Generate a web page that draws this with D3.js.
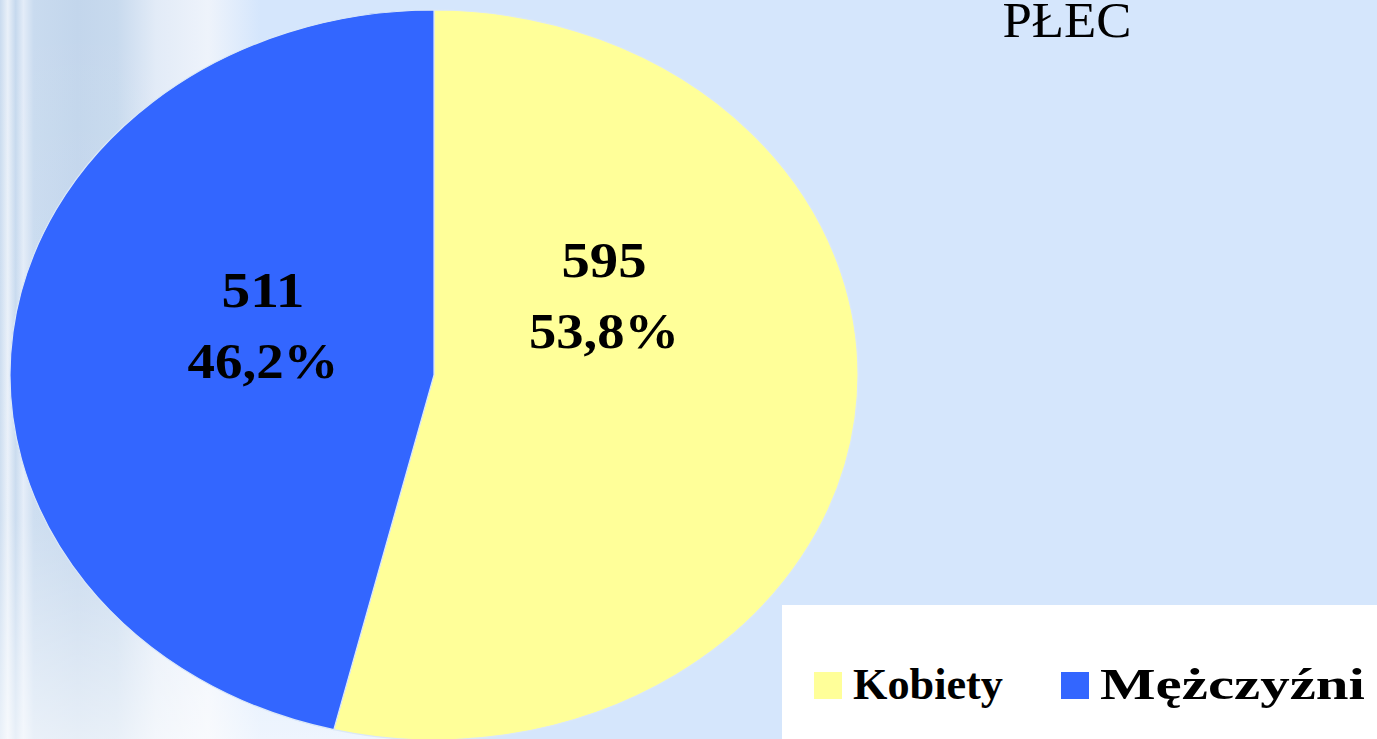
<!DOCTYPE html>
<html>
<head>
<meta charset="utf-8">
<script src="https://cdn.jsdelivr.net/npm/d3@7"></script>
<style>
  html, body { margin: 0; padding: 0; background: #d5e6fc; }
  svg { display: block; }
</style>
</head>
<body>
<svg id="chart" width="1377" height="739"></svg>
<script>
const categories = ["Kobiety", "Mężczyźni"];
const counts = [595, 511];
const percentLabels = ["53,8%", "46,2%"];
const colors = ["#ffff99", "#3366ff"];
const title = "PŁEC";

const W = 1377, H = 739;
const svg = d3.select("#chart");

// background
const defs = svg.append("defs");
const g1 = defs.append("linearGradient").attr("id", "bgcols").attr("x1", 0).attr("x2", 1).attr("y1", 0).attr("y2", 0);
[[0, "#c9dbef"], [0.03, "#e9f0f9"], [0.06, "#c6d9ee"], [0.09, "#e3ecf8"], [0.13, "#c9dbef"], [0.3, "#c3d6ec"], [0.45, "#c8daee"], [0.6, "#e2ebf7"], [0.8, "#eef3fb"], [1, "#d5e6fc"]]
  .forEach(([o, c]) => g1.append("stop").attr("offset", o).attr("stop-color", c));
const g2 = defs.append("linearGradient").attr("id", "fadeV").attr("x1", 0).attr("x2", 0).attr("y1", 0).attr("y2", 1);
[[0, "#ffffff", 0], [0.7, "#ffffff", 0.1], [1, "#ffffff", 0.6]]
  .forEach(([o, c, a]) => g2.append("stop").attr("offset", o).attr("stop-color", c).attr("stop-opacity", a));

svg.append("rect").attr("width", W).attr("height", H).attr("fill", "#d5e6fc");
svg.append("rect").attr("x", 0).attr("y", 0).attr("width", 260).attr("height", H).attr("fill", "url(#bgcols)");
svg.append("rect").attr("x", 0).attr("y", 0).attr("width", 420).attr("height", H).attr("fill", "url(#fadeV)");

// pie
const cx = 434, cy = 375, rx = 424, ry = 365;
const pie = d3.pie().sort(null).value(d => d)(counts);
const arc = d3.arc().innerRadius(0).outerRadius(ry);
const pg = svg.append("g").attr("transform", `translate(${cx},${cy}) scale(${rx / ry},1)`);
pg.selectAll("path").data(pie).join("path")
  .attr("d", arc)
  .attr("fill", (d, i) => colors[i])
  .attr("stroke", "#dbe8f8")
  .attr("stroke-width", 1.2)
  .attr("vector-effect", "non-scaling-stroke");

// labels
const labelPos = [[604, 277, 348, 85, 150], [263, 307, 378, 83, 151]];
const lg = svg.append("g").attr("font-family", "'Liberation Serif', 'Times New Roman', serif")
  .attr("font-weight", "bold").attr("font-size", 50).attr("fill", "#000").attr("text-anchor", "middle");
counts.forEach((v, i) => {
  const [x, y1, y2, w1, w2] = labelPos[i];
  lg.append("text").attr("x", x).attr("y", y1).attr("textLength", w1).attr("lengthAdjust", "spacingAndGlyphs").text(String(v));
  lg.append("text").attr("x", x).attr("y", y2).attr("textLength", w2).attr("lengthAdjust", "spacingAndGlyphs").text(percentLabels[i]);
});

// title
svg.append("text").attr("x", 1067).attr("y", 37).attr("text-anchor", "middle")
  .attr("font-family", "'Liberation Serif', 'Times New Roman', serif").attr("font-size", 50).attr("fill", "#000")
  .attr("textLength", 129).attr("lengthAdjust", "spacingAndGlyphs")
  .text(title);

// legend
svg.append("rect").attr("x", 782).attr("y", 605).attr("width", W - 782).attr("height", H - 605).attr("fill", "#ffffff");
const legX = [814, 1061];
const legW = [150, 265];
const leg = svg.append("g");
categories.forEach((c, i) => {
  leg.append("rect").attr("x", legX[i]).attr("y", 672).attr("width", 28).attr("height", 27).attr("fill", colors[i]);
  leg.append("text").attr("x", legX[i] + 39).attr("y", 699)
    .attr("font-family", "'Liberation Serif', 'Times New Roman', serif").attr("font-weight", "bold")
    .attr("font-size", 44).attr("fill", "#000")
    .attr("textLength", legW[i]).attr("lengthAdjust", "spacingAndGlyphs").text(c);
});
</script>
</body>
</html>
